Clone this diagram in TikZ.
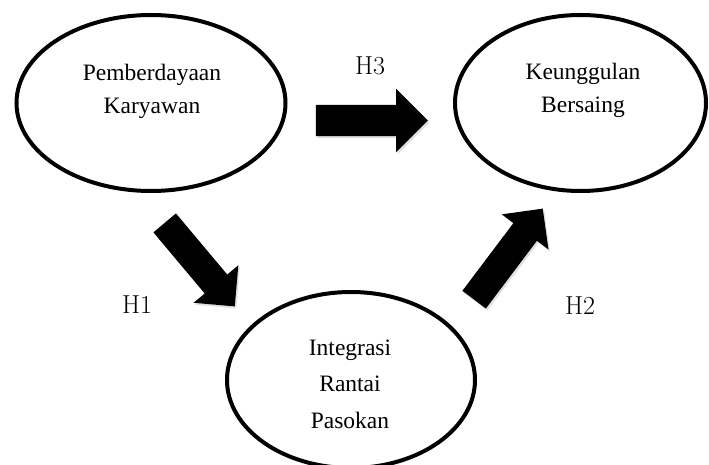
\documentclass[tikz,border=0pt]{standalone}
\usepackage{fontspec}
\newfontfamily\timesfont{Liberation Serif}
\usetikzlibrary{shapes.geometric, shapes.arrows, shadows, positioning}

\tikzset{
  construct/.style={ellipse, draw, line width=4pt, inner sep=0pt},
  ctext/.style={font=\timesfont\fontsize{23.5}{33}\selectfont, align=center},
  hyp/.style={font=\fontsize{26}{30}\selectfont},
  bigarrow/.style={single arrow, fill=black, inner xsep=0pt, inner ysep=#1,
    single arrow head extend=16pt,
    drop shadow={opacity=0.25, shadow xshift=1.5pt, shadow yshift=-2pt}},
}

\begin{document}
\begin{tikzpicture}[x=1pt, y=-1pt]
  \useasboundingbox (0,0) rectangle (709,465);

  %Define nodes
  \node[construct, minimum width=269pt, minimum height=176pt] (pk) at (151,103) {};
  \node[construct, minimum width=251pt, minimum height=176pt] (kb) at (580.5,103) {};
  \node[construct, minimum width=248pt, minimum height=176pt] (irp) at (351,380) {};

  % Texts
  \node[ctext] (pktext) at (152,91) {Pemberdayaan\\Karyawan};
  \node[ctext] (kbtext) at (583,90) {Keunggulan\\Bersaing};
  \node[ctext, font=\timesfont\fontsize{23.5}{36.5}\selectfont] (irptext) at (350,384) {Integrasi\\Rantai\\Pasokan};

  % Arrows
  \node[bigarrow=15.5pt, minimum height=112pt] (h3arrow) at (364,120.5) {};
  \node[bigarrow=14.5pt, single arrow head extend=14.5pt, minimum height=109pt, rotate=-50] (h1arrow) at (195,259) {};
  \node[bigarrow=14.5pt, single arrow head extend=14.5pt, minimum height=114pt, rotate=53] (h2arrow) at (504,260) {};

  % Hypotheses
  \node[hyp] (h3) at (370,66) {H3};
  \node[hyp] (h1) at (137,305) {H1};
  \node[hyp] (h2) at (580,306) {H2};
\end{tikzpicture}
\end{document}
